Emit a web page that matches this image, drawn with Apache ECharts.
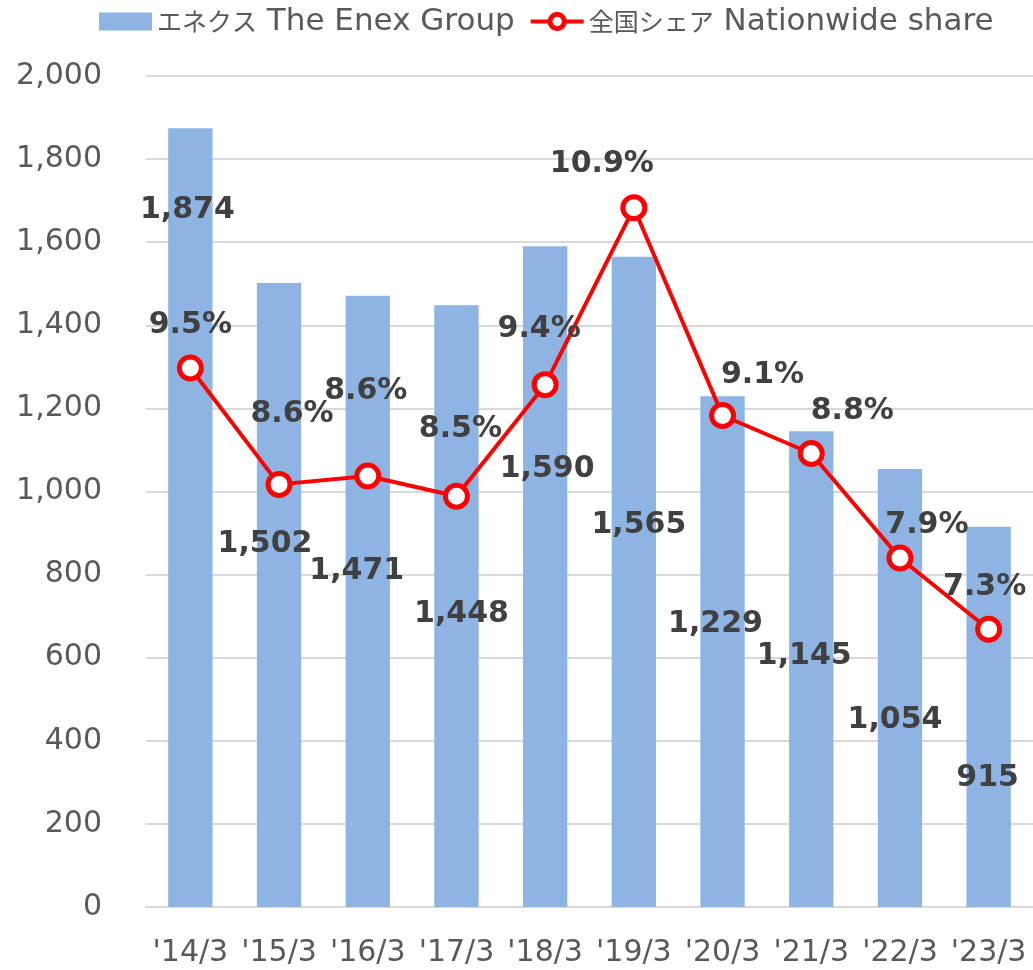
<!DOCTYPE html>
<html>
<head>
<meta charset="utf-8">
<script src="https://cdn.jsdelivr.net/npm/echarts@6/dist/echarts.min.js"></script>
<style>
  html, body { margin: 0; padding: 0; background: #fff; }
  #chart { width: 1033px; height: 970px; }
</style>
</head>
<body>
<div id="chart"></div>
<script>
// categories and values
const years = ["'14/3", "'15/3", "'16/3", "'17/3", "'18/3", "'19/3", "'20/3", "'21/3", "'22/3", "'23/3"]
const enexVolume = [1874, 1502, 1471, 1448, 1590, 1565, 1229, 1145, 1054, 915]
const nationwideShare = [9.54, 8.56, 8.63, 8.46, 9.40, 10.89, 9.14, 8.82, 7.94, 7.34]
const yTicks = [0, 200, 400, 600, 800, 1000, 1200, 1400, 1600, 1800, 2000]

const barName = 'エネクス The Enex Group'
const lineName = '全国シェア Nationwide share'

// hand-placed label nudges, like the original Excel chart
const barLabelNudge = [[-3, 97], [-14, 276], [-11, 290], [5, 324], [2, 238], [5, 283], [-7, 243], [-7, 240], [-5, 266], [-1, 266]]
const shareLabelNudge = [[0, -14], [13, -42], [-2, -56], [4, -39], [-6, -27], [-32, -15], [40, -12], [41, -14], [27, -4], [-4, -14]]

const latin = 'DejaVu Sans'
const labelStyle = { fontFamily: latin, fontWeight: 'bold', fontSize: 30, color: '#404040' }

function fmt(n) {
  return n.toLocaleString('en-US')
}

const chart = echarts.init(document.getElementById('chart'))

chart.setOption({
  animation: false,
  backgroundColor: '#fff',
  legend: {
    left: 99,
    top: 6,
    padding: 0,
    itemWidth: 53,
    itemHeight: 18,
    itemGap: 14,
    data: [
      { name: barName, icon: 'rect' },
      {
        name: lineName,
        lineStyle: { width: 4 },
        itemStyle: { borderWidth: 5 },
      },
    ],
    formatter: (name) => {
      const i = name.indexOf(' ')
      return '{jp|' + name.slice(0, i) + '}{en|' + name.slice(i) + '}'
    },
    textStyle: {
      rich: {
        jp: { fontFamily: 'Noto Sans CJK JP', fontSize: 25, color: '#595959' },
        en: { fontFamily: latin, fontSize: 31, color: '#595959' },
      },
    },
  },
  grid: {
    left: 146,
    right: 0,
    top: 76,
    bottom: 63,
  },
  xAxis: {
    type: 'category',
    data: years,
    axisTick: { show: false },
    axisLine: { lineStyle: { color: '#d9d9d9', width: 2 } },
    axisLabel: {
      interval: 0,
      margin: 31,
      fontFamily: latin,
      fontSize: 30,
      color: '#595959',
    },
  },
  yAxis: [
    {
      type: 'value',
      min: yTicks[0],
      max: yTicks[yTicks.length - 1],
      interval: yTicks[1] - yTicks[0],
      axisLine: { show: false },
      axisTick: { show: false },
      splitLine: { lineStyle: { color: '#d9d9d9', width: 2 } },
      axisLabel: {
        margin: 44,
        fontFamily: latin,
        fontSize: 30,
        color: '#595959',
        formatter: (v) => fmt(v),
      },
    },
    {
      type: 'value',
      min: 5,
      max: 12,
      show: false,
      splitLine: { show: false },
    },
  ],
  series: [
    {
      name: barName,
      type: 'bar',
      barWidth: '50%',
      itemStyle: { color: '#8eb4e3' },
      data: enexVolume.map((v, i) => ({
        value: v,
        label: { offset: barLabelNudge[i] },
      })),
      label: {
        show: true,
        position: 'top',
        distance: 0,
        ...labelStyle,
        formatter: (p) => fmt(p.value),
      },
      z: 2,
    },
    {
      name: lineName,
      type: 'line',
      yAxisIndex: 1,
      symbol: 'circle',
      symbolSize: 22,
      lineStyle: { color: '#ff0000', width: 4 },
      itemStyle: { color: '#fff', borderColor: '#ff0000', borderWidth: 5 },
      data: nationwideShare.map((v, i) => ({
        value: v,
        label: { offset: shareLabelNudge[i] },
      })),
      label: {
        show: true,
        position: 'top',
        distance: 0,
        ...labelStyle,
        formatter: (p) => p.value.toFixed(1) + '%',
      },
      z: 3,
    },
  ],
})
</script>
</body>
</html>
